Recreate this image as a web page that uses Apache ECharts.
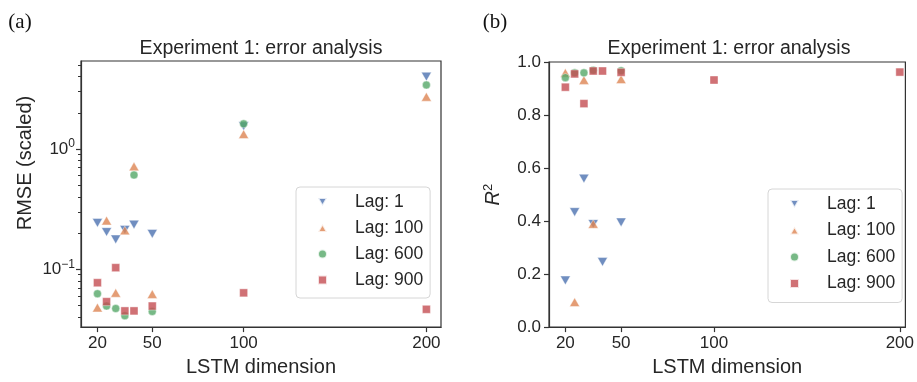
<!DOCTYPE html>
<html>
<head>
<meta charset="utf-8">
<script src="https://cdn.jsdelivr.net/npm/echarts@6/dist/echarts.min.js"></script>
<style>
  html, body { margin: 0; padding: 0; background: #fff; }
  #chart { width: 917px; height: 382px; }
</style>
</head>
<body>
<div id="chart"></div>
<script>
// LSTM dimensions (shared x values)
const dims = [20, 25, 30, 35, 40, 50, 100, 200]
const xTicks = [20, 50, 100, 200]
const lagNames = ['Lag: 1', 'Lag: 100', 'Lag: 600', 'Lag: 900']

// (a) RMSE (scaled), log scale
const rmseLag1 = [0.243, 0.204, 0.177, 0.213, 0.235, 0.197, 1.55, 4.0]
const rmseLag100 = [0.048, 0.254, 0.0636, 0.21, 0.716, 0.0621, 1.33, 2.72]
const rmseLag600 = [0.0625, 0.0494, 0.0471, 0.041, 0.608, 0.0445, 1.62, 3.41]
const rmseLag900 = [0.0772, 0.0537, 0.103, 0.045, 0.045, 0.0494, 0.0636, 0.0464]
const rmseMajorTicks = [0.1, 1]
const rmseMinorTicks = [0.04, 0.05, 0.06, 0.07, 0.08, 0.09, 0.2, 0.3, 0.4, 0.5, 0.6, 0.7, 0.8, 0.9, 2, 3, 4, 5]

// (b) R^2 (points outside [0, 1] are not shown)
const r2Lag1 = [0.176, 0.434, 0.56, 0.389, 0.246, 0.395, null, null]
const r2Lag100 = [0.959, 0.094, 0.932, 0.389, null, 0.935, null, null]
const r2Lag600 = [0.941, 0.959, 0.959, 0.969, null, 0.967, null, null]
const r2Lag900 = [0.905, 0.955, 0.843, 0.966, 0.966, 0.961, 0.932, 0.962]

const colors = ['#4C72B0', '#DD8452', '#55A868', '#C44E52']
// down triangle, up triangle, circle, square
const symbols = ['path://M0,0 L10,0 L5,8.66 Z', 'path://M5,0 L10,8.66 L0,8.66 Z', 'circle', 'rect']
const sizes = [[10, 8.7], [10, 8.7], 8, 8]

const FONT = 'Liberation Sans'
const INK = '#262626'
const SPINE = '#333'

const pairs = (vals) => dims.map((d, i) => [d, vals[i]]).filter((p) => p[1] != null)

function scatter(name, i, vals, axisIdx) {
  return {
    type: 'scatter',
    name,
    xAxisIndex: axisIdx,
    yAxisIndex: axisIdx === 0 ? 0 : 2,
    symbol: symbols[i],
    symbolSize: sizes[i],
    itemStyle: { color: colors[i], opacity: 0.8, borderColor: '#fff', borderWidth: 0.5 },
    data: pairs(vals),
  }
}

const xAxisBase = (min, max, gap) => ({
  type: 'value',
  min,
  max,
  name: 'LSTM dimension',
  nameLocation: 'middle',
  nameGap: gap,
  nameTextStyle: { fontFamily: FONT, fontSize: 20, color: INK },
  axisLine: { show: true, lineStyle: { color: SPINE, width: 1.2 } },
  axisTick: { show: true, length: 5, customValues: xTicks, lineStyle: { color: SPINE, width: 1.2 } },
  axisLabel: { customValues: xTicks, margin: 8, fontFamily: FONT, fontSize: 17, color: INK },
  splitLine: { show: false },
})

const legendBase = (left, top, padding, gap) => ({
  orient: 'vertical',
  left,
  top,
  padding,
  itemGap: gap,
  itemWidth: 9,
  itemHeight: 9,
  data: lagNames,
  borderColor: '#d6d6d6',
  borderWidth: 1,
  borderRadius: 4,
  backgroundColor: 'rgba(255,255,255,0.8)',
  textStyle: { fontFamily: FONT, fontSize: 17.5, color: INK, lineHeight: 20, padding: [0, 0, 0, 23] },
})

const supLabel = (v) => (v === 1 ? '{b|10}{s|0}' : '{b|10}{s|\u22121}')

const option = {
  animation: false,
  backgroundColor: '#fff',
  textStyle: { fontFamily: FONT },
  grid: [
    { left: 81, top: 61, width: 360, height: 269, show: true, borderColor: SPINE, borderWidth: 1.2 },
    { left: 549, top: 62, width: 358, height: 271, show: true, borderColor: SPINE, borderWidth: 1.2 },
  ],
  graphic: [
    { type: 'text', x: 20, y: 22, style: { text: '(a)', font: '21px "Liberation Serif"', fill: '#111', align: 'center', verticalAlign: 'middle' } },
    { type: 'text', x: 495, y: 22, style: { text: '(b)', font: '21px "Liberation Serif"', fill: '#111', align: 'center', verticalAlign: 'middle' } },
    { type: 'text', x: 261, y: 49, style: { text: 'Experiment 1: error analysis', font: '19.5px "Liberation Sans"', fill: INK, align: 'center', verticalAlign: 'middle' } },
    { type: 'text', x: 729, y: 49, style: { text: 'Experiment 1: error analysis', font: '19.5px "Liberation Sans"', fill: INK, align: 'center', verticalAlign: 'middle' } },
  ],
  xAxis: [
    { ...xAxisBase(11, 208, 28), gridIndex: 0 },
    { ...xAxisBase(11.2, 203, 25), gridIndex: 1 },
  ],
  yAxis: [
    {
      gridIndex: 0,
      type: 'log',
      logBase: 10,
      min: 0.033,
      max: 5.4,
      position: 'left',
      name: 'RMSE (scaled)',
      nameLocation: 'middle',
      nameGap: 46,
      nameTextStyle: { fontFamily: FONT, fontSize: 20, color: INK, padding: [0, 0, 0, 62] },
      axisLine: { show: true, lineStyle: { color: SPINE, width: 1.2 } },
      axisTick: { show: true, length: 5, customValues: rmseMajorTicks, lineStyle: { color: SPINE, width: 1.2 } },
      axisLabel: {
        customValues: rmseMajorTicks,
        margin: 6,
        color: INK,
        formatter: supLabel,
        rich: {
          b: { fontFamily: FONT, fontSize: 17, color: INK },
          s: { fontFamily: FONT, fontSize: 12, color: INK, padding: [0, 0, 10, 0] },
        },
      },
      splitLine: { show: false },
    },
    {
      // minor ticks only, same scale as the RMSE axis
      gridIndex: 0,
      type: 'log',
      logBase: 10,
      min: 0.033,
      max: 5.4,
      position: 'left',
      offset: 0,
      axisLine: { show: false },
      axisTick: { show: true, length: 3, customValues: rmseMinorTicks, lineStyle: { color: SPINE, width: 1 } },
      axisLabel: { show: false },
      splitLine: { show: false },
    },
    {
      gridIndex: 1,
      type: 'value',
      min: 0,
      max: 1,
      interval: 0.2,
      name: '{i|R}{s|2}',
      nameLocation: 'middle',
      nameGap: 44,
      nameTextStyle: {
        padding: [0, 0, 0, 0],
        rich: {
          i: { fontFamily: FONT, fontSize: 20, fontStyle: 'italic', color: INK },
          s: { fontFamily: FONT, fontSize: 13, color: INK, padding: [0, 0, 10, 0] },
        },
      },
      axisLine: { show: true, lineStyle: { color: SPINE, width: 1.2 } },
      axisTick: { show: true, length: 5, lineStyle: { color: SPINE, width: 1.2 } },
      axisLabel: { margin: 8, fontFamily: FONT, fontSize: 17, color: INK, formatter: (v) => v.toFixed(1) },
      splitLine: { show: false },
    },
  ],
  legend: [
    legendBase(296, 187, [5, 7, 8, 21], 6),
    legendBase(768, 189, [5, 7, 9, 21], 6.5),
  ],
  series: [
    scatter(lagNames[0], 0, rmseLag1, 0),
    scatter(lagNames[1], 1, rmseLag100, 0),
    scatter(lagNames[2], 2, rmseLag600, 0),
    scatter(lagNames[3], 3, rmseLag900, 0),
    scatter(lagNames[0], 0, r2Lag1, 1),
    scatter(lagNames[1], 1, r2Lag100, 1),
    scatter(lagNames[2], 2, r2Lag600, 1),
    scatter(lagNames[3], 3, r2Lag900, 1),
  ],
}

const chart = echarts.init(document.getElementById('chart'), null, { renderer: 'canvas' })
chart.setOption(option)
</script>
</body>
</html>
